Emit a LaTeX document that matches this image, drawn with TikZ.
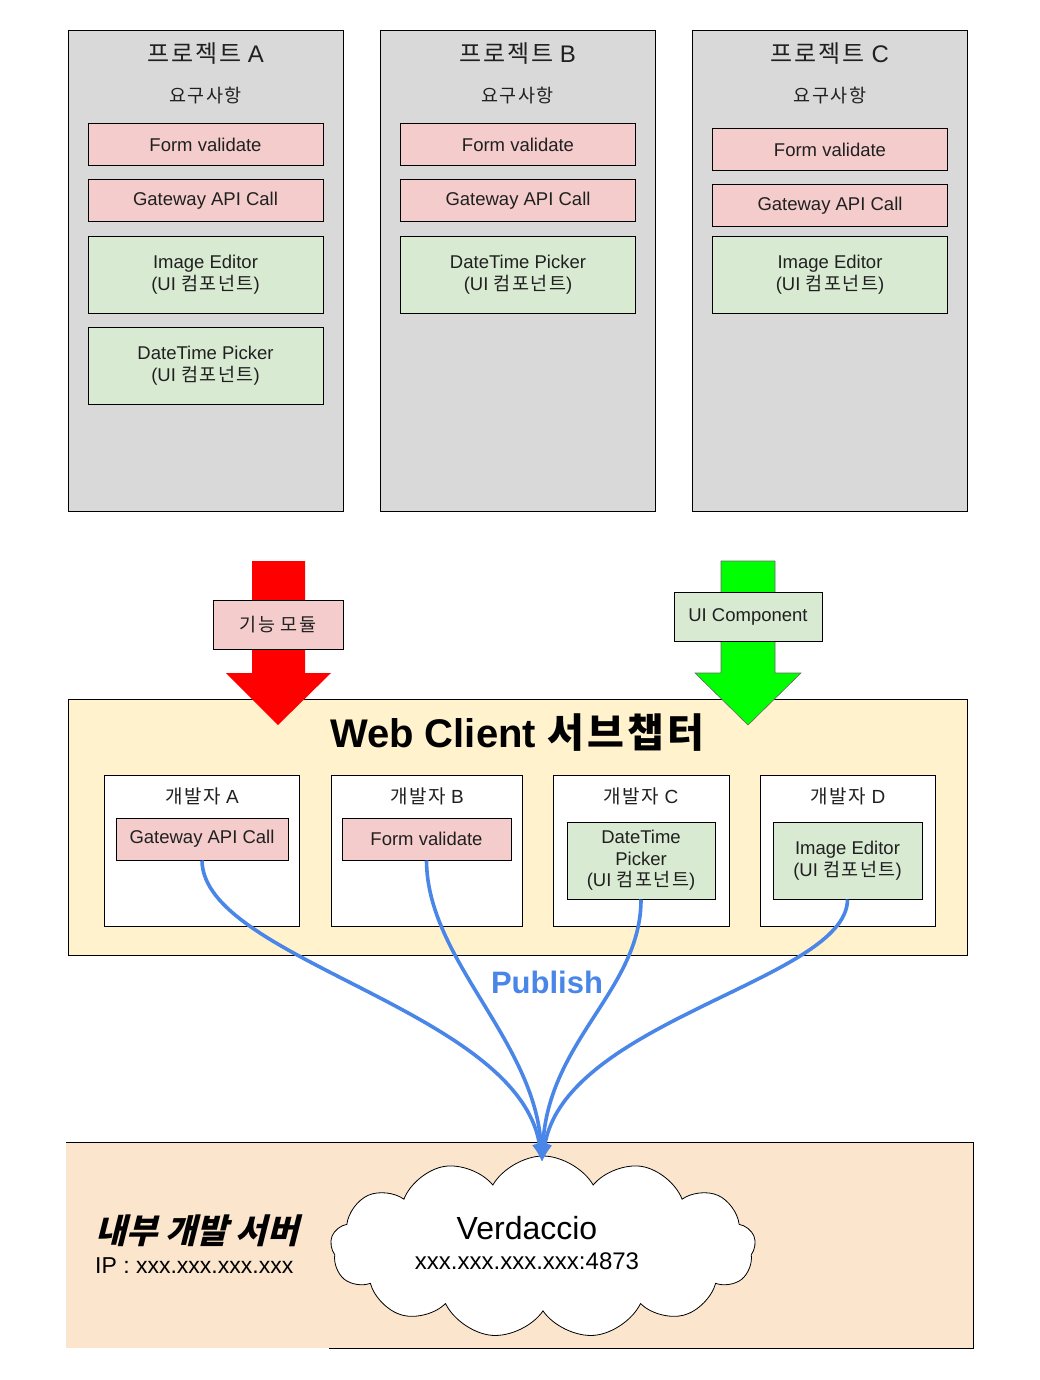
\documentclass[tikz,border=0pt]{standalone}
\usepackage{fontspec}
\setmainfont{Liberation Sans}
\newfontfamily\krfont{Noto Sans CJK KR}[LetterSpace=8]
\newfontfamily\krslant{Noto Sans CJK KR}[FakeSlant=0.25]
\newcommand\kr[1]{{\krfont #1}}
\newcommand\fsz[2]{\fontsize{#1}{#2}\selectfont}
\usetikzlibrary{shapes.symbols,arrows.meta}
\definecolor{grayc}{HTML}{D9D9D9}
\definecolor{pinkc}{HTML}{F4CCCC}
\definecolor{greenc}{HTML}{D9EAD3}
\definecolor{yellowc}{HTML}{FFF2CC}
\definecolor{peachc}{HTML}{FCE5CD}
\definecolor{bluec}{HTML}{4A86E8}
\definecolor{redc}{HTML}{FF0000}
\definecolor{limec}{HTML}{00FF00}
\definecolor{textc}{HTML}{202020}
\tikzset{
  proj/.style={draw, fill=grayc, line width=1pt, minimum width=275pt, minimum height=480pt, inner sep=0pt},
  ptitle/.style={font=\fsz{24}{28}, text=textc, inner sep=0pt},
  preq/.style={font=\fsz{18.5}{22}, text=textc, inner sep=0pt},
  fbox/.style={draw, fill=pinkc, line width=1pt, minimum width=235pt, minimum height=42pt, inner sep=0pt, font=\fsz{18.5}{22}, align=center, text=textc},
  ubox/.style={fbox, fill=greenc, minimum height=77pt},
  devbox/.style={draw, fill=white, line width=1pt, minimum height=151pt, inner sep=0pt},
  dtitle/.style={font=\fsz{19}{22}, text=textc, inner sep=0pt},
  pub/.style={bluec, line width=3.6pt, -{Latex[length=18pt,width=15pt]}},
}
\begin{document}
\begin{tikzpicture}[x=1pt,y=-1pt]
\useasboundingbox (0,0) rectangle (1040,1380);
% projects
\foreach \n/\cx in {A/205.5,B/517.5,C/830}{
  \node[proj] (proj\n) at (\cx,271) {};
  \node[ptitle] (pt\n) at (\cx,54) {\kr{프로젝트} \n};
  \node[preq] (pr\n) at (\cx,96) {\kr{요구사항}};
}
\node[fbox] (fvA) at (205.5,145) {Form validate};
\node[fbox] (gwA) at (205.5,201) {Gateway API Call};
\node[ubox] (ieA) at (205.5,275) {Image Editor\\(UI \kr{컴포넌트})};
\node[ubox] (dtA) at (205.5,365.5) {DateTime Picker\\(UI \kr{컴포넌트})};
\node[fbox] (fvB) at (518,145) {Form validate};
\node[fbox] (gwB) at (518,201) {Gateway API Call};
\node[ubox] (dtB) at (518,275) {DateTime Picker\\(UI \kr{컴포넌트})};
\node[fbox] (fvC) at (830,150) {Form validate};
\node[fbox] (gwC) at (830,206) {Gateway API Call};
\node[ubox] (ieC) at (830,275) {Image Editor\\(UI \kr{컴포넌트})};
% web client box
\node[draw, fill=yellowc, line width=1pt, minimum width=899pt, minimum height=256pt, inner sep=0pt] (wc) at (517.5,827) {};
\node[font=\fsz{40}{44}\bfseries, inner sep=0pt] (wct) at (517,733) {Web Client {\krfont\bfseries 서브챕터}};
% big arrows
\fill[redc] (252,561) -- (305,561) -- (305,673) -- (331,673) -- (278,725) -- (226,673) -- (252,673) -- cycle;
\filldraw[fill=limec, draw=black!60, line width=0.6pt] (721,561) -- (775,561) -- (775,673) -- (801,673) -- (748,725) -- (695,673) -- (721,673) -- cycle;
\node[draw, fill=pinkc, line width=1pt, minimum width=130pt, minimum height=49pt, inner sep=0pt, font=\fsz{18.5}{22}, text=textc] (lblA) at (278,624.5) {\kr{기능 모듈}};
\node[draw, fill=greenc, line width=1pt, minimum width=148pt, minimum height=49pt, inner sep=0pt, font=\fsz{18.5}{22}, text=textc] (lblB) at (748,616.5) {UI Component};
% developer boxes
\node[devbox, minimum width=195pt] (devA) at (201.5,850.5) {};
\node[devbox, minimum width=191pt] (devB) at (426.5,850.5) {};
\node[devbox, minimum width=176pt] (devC) at (641,850.5) {};
\node[devbox, minimum width=175pt] (devD) at (847.5,850.5) {};
\node[dtitle] (dtA1) at (202,796) {\kr{개발자} A};
\node[dtitle] (dtB1) at (427,796) {\kr{개발자} B};
\node[dtitle] (dtC1) at (641,796) {\kr{개발자} C};
\node[dtitle] (dtD1) at (848,796) {\kr{개발자} D};
\node[fbox, minimum width=172pt] (dgw) at (202,839) {Gateway API Call};
\node[fbox, minimum width=169pt] (dfv) at (426.5,839) {Form validate};
\node[ubox, minimum width=148pt, font=\fsz{18.5}{21.5}] (ddt) at (641,860.5) {DateTime\\Picker\\(UI \kr{컴포넌트})};
\node[ubox, minimum width=149pt] (die) at (847.5,860.5) {Image Editor\\(UI \kr{컴포넌트})};
% bottom server box
\fill[peachc] (66,1142) rectangle (973,1348);
\draw[line width=1pt] (66,1142) -- (973,1142) -- (973,1348) -- (329,1348);
\node[cloud, cloud puffs=13, cloud puff arc=120, aspect=2.3, draw, fill=white, line width=0.8pt, minimum width=425pt, minimum height=182pt, inner sep=0pt] (cloud) at (543,1247) {};
\node[font=\fsz{32}{36}, inner sep=0pt] (verd) at (527,1228) {Verdaccio};
\node[font=\fsz{24}{28}, inner sep=0pt] (addr) at (527,1261) {xxx.xxx.xxx.xxx:4873};
\node[font=\fsz{34}{38}\krslant\bfseries, anchor=west, inner sep=0pt] (srv) at (95,1231) {내부 개발 서버};
\node[font=\fsz{23}{26}, anchor=west, inner sep=0pt] (ip) at (95,1266) {IP : xxx.xxx.xxx.xxx};
% publish arrows
\coordinate (tip) at (542,1162);
\draw[pub] (dgw.south) .. controls (203,960) and (520,1010) .. (tip);
\draw[pub] (dfv.south) .. controls (427,960) and (535,1040) .. (tip);
\draw[pub] (ddt.south) .. controls (641,990) and (548,1040) .. (tip);
\draw[pub] (die.south) .. controls (847,980) and (565,1020) .. (tip);
\node[font=\fsz{31}{34}\bfseries, text=bluec, inner sep=0pt] (publish) at (547,982) {Publish};
\end{tikzpicture}
\end{document}
